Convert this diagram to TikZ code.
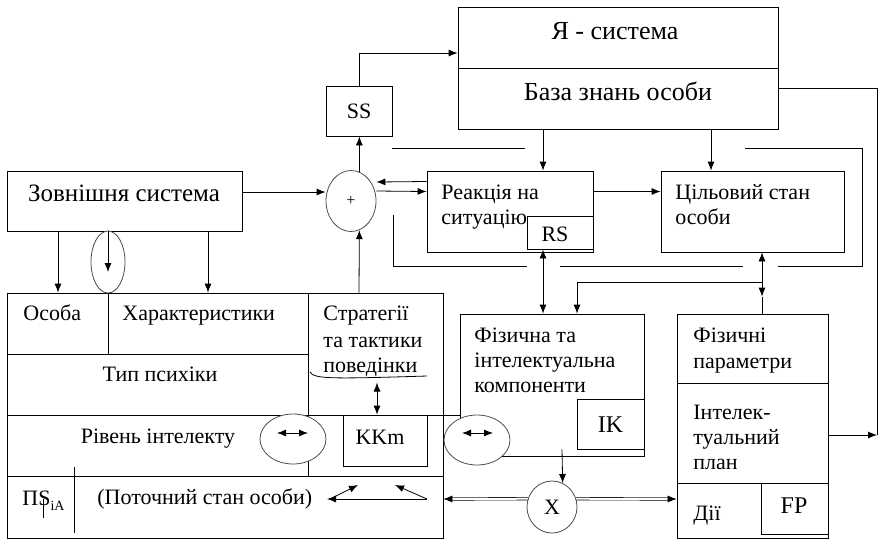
\documentclass[tikz,border=0pt]{standalone}
\usepackage{fontspec}
\setmainfont{Liberation Serif}
\usetikzlibrary{arrows.meta,shapes.geometric}

\begin{document}
\begin{tikzpicture}[x=1pt,y=-1pt,line width=0.8pt,
    >={Latex[length=9pt,width=7pt]},
    box/.style={draw,rectangle,inner sep=0pt},
    oval/.style={draw=black!70,ellipse,fill=white,inner sep=0pt},
    lbl/.style={anchor=west,inner sep=0pt,text height=14.5pt,text depth=0pt,font=\fontsize{22}{25}\selectfont},
    mid/.style={inner sep=0pt,text height=14.5pt,text depth=0pt,font=\fontsize{22}{25}\selectfont},
    big text/.style={mid,text height=17pt,font=\fontsize{26}{26}\selectfont},
    dbl/.style={double,double distance=2pt,line width=0.6pt}]
  \useasboundingbox (0,0) rectangle (878,539);
  % boxes
  \node[box,minimum width=320pt,minimum height=122pt] (ya) at (618,68) {};
  \node[box,minimum width=66pt,minimum height=50pt] (ss) at (359,111) {};
  \node[box,minimum width=235pt,minimum height=60pt] (zovn) at (124.5,201) {};
  \node[box,minimum width=166pt,minimum height=81pt] (reak) at (510,211.5) {};
  \node[box,minimum width=66pt,minimum height=33pt] (rs) at (560,232.5) {};
  \node[box,minimum width=183pt,minimum height=81pt] (cil) at (752.5,211.5) {};
  \node[box,minimum width=436pt,minimum height=245pt] (big) at (225,415.5) {};
  \node[box,minimum width=84pt,minimum height=51pt] (kkm) at (385,440.5) {};
  \node[box,minimum width=184pt,minimum height=142pt] (fizk) at (552,385) {};
  \node[box,minimum width=67pt,minimum height=50pt] (ik) at (610.5,424) {};
  \node[box,minimum width=151pt,minimum height=224pt] (fizp) at (752.5,426) {};
  \node[box,minimum width=67pt,minimum height=51pt] (fp) at (794.5,508.5) {};
  % inner lines
  \draw (ya.west) -- (ya.east);
  \draw (308,293) -- (308,476);
  \draw (108,293) -- (108,354);
  \draw (7,354) -- (308,354);
  \draw (7,415) -- (460,415);
  \draw (7,476) -- (443,476);
  \draw (74,467) -- (74,533);
  \draw (43,499) -- (43,518);
  \draw (310,372) .. controls (314,379) and (330,379) .. (427,376);
  \draw (677,383) -- (828,383);
  \draw (677,483) -- (828,483);
  % ovals
  \node[oval,minimum width=50pt,minimum height=61pt,font=\fontsize{16}{16}\selectfont] (plus) at (351,201) {+};
  \node[oval,minimum width=34pt,minimum height=62pt] (elz) at (108,262) {};
  \node[oval,minimum width=66pt,minimum height=50pt] (el1) at (293,439) {};
  \node[oval,minimum width=66pt,minimum height=50pt] (el2) at (477,440) {};
  \node[oval,minimum width=50pt,minimum height=52pt] (xc) at (552,507) {};
  % loop around
  \draw (393,215) -- (393,266) -- (527,266);
  \draw (560,266) -- (743,266);
  \draw (778,266) -- (862,266) -- (862,148) -- (745,148);
  \draw (525,148) -- (392,148);
  % texts
  \node[big text] at (615,31) {Я - система};
  \node[big text] at (618,92) {База знань особи};
  \node[mid] at (ss) {SS};
  \node[mid,text height=16.5pt,font=\fontsize{25}{25}\selectfont] at (124,193) {Зовнішня система};
  \node[lbl] at (441,192) {Реакція на};
  \node[lbl] at (441,217) {ситуацію};
  \node[mid] at (555,234) {RS};
  \node[lbl] at (675,192) {Цільовий стан};
  \node[lbl] at (675,217) {особи};
  \node[lbl] at (23,313) {Особа};
  \node[lbl] at (122,313) {Характеристики};
  \node[lbl] at (323,313) {Стратегії};
  \node[lbl] at (323,340) {та тактики};
  \node[lbl] at (323,365) {поведінки};
  \node[mid] at (160,374) {Тип психіки};
  \node[mid] at (158,436) {Рівень інтелекту};
  \node[mid] at (380,437) {KKm};
  \node[lbl] at (22,498) {ПS\raisebox{-5pt}{\fontsize{14}{14}\selectfont iA}};
  \node[lbl] at (97,497) {(Поточний стан особи)};
  \node[lbl] at (474,335) {Фізична та};
  \node[lbl] at (474,360) {інтелектуальна};
  \node[lbl] at (474,385) {компоненти};
  \node[mid,text height=16pt,font=\fontsize{24}{24}\selectfont] at (ik) {IK};
  \node[mid] at (xc) {X};
  \node[lbl] at (693,335) {Фізичні};
  \node[lbl] at (693,361) {параметри};
  \node[lbl] at (693,412) {Інтелек-};
  \node[lbl] at (693,437) {туальний};
  \node[lbl] at (693,462) {план};
  \node[lbl] at (693,513) {Дії};
  \node[mid,text height=16pt,font=\fontsize{24}{24}\selectfont] at (794,505) {FP};
  % connectors
  \draw[->] (ss.north) |- ([yshift=15pt]ya.west);
  \draw[->] (plus.74) -- (plus.74 |- ss.south);
  \draw[->] ([yshift=9pt]zovn.east) -- ([yshift=9pt]plus.west);
  \draw[->] ([yshift=10pt]plus.east) -- ([yshift=20pt]reak.west);
  \draw[->] ([yshift=30pt]reak.west) -- ([yshift=19pt]plus.east);
  \draw[->] ([yshift=20pt]reak.east) -- ([yshift=20pt]cil.west);
  \draw[->] ([xshift=-75pt]ya.south) -- ([xshift=33pt]reak.north);
  \draw[->] ([xshift=93pt]ya.south) -- ([xshift=-41.5pt]cil.north);
  \draw[<->] ([xshift=-17pt]rs.south) -- ([xshift=-9pt]fizk.north);
  \coordinate (fa) at ([xshift=9.5pt,yshift=17pt]fizp.north);
  \coordinate (fj) at ([xshift=9.5pt,yshift=31pt]fizp.north);
  \draw[<->] ([xshift=9.5pt]cil.south) -- (fa);
  \draw (fa) -- ([xshift=9.5pt]fizp.north);
  \draw[->] (fj) -| ([xshift=25pt]fizk.north);
  \draw[->] ([xshift=-66.5pt]zovn.south) -- ([xshift=-167pt]big.north);
  \draw[->] ([xshift=83.5pt]zovn.south) -- ([xshift=-17pt]big.north);
  \draw[->] (elz.north) -- ([yshift=-10pt]elz.center);
  \draw[->] ([xshift=134pt]big.north) -- (plus.-74);
  \draw[<->] ([xshift=-8pt,yshift=32pt]kkm.north) -- ([xshift=-8pt]kkm.north);
  \draw[<->] ([xshift=-16pt,yshift=6pt]el1.center) -- ([xshift=15pt,yshift=6pt]el1.center);
  \draw[<->] ([xshift=-15pt,yshift=7pt]el2.center) -- ([xshift=16pt,yshift=7pt]el2.center);
  \draw[->] ([xshift=10pt,yshift=7pt]fizk.south) -- (xc.66);
  \draw[dbl,->] (xc.161) -- ([yshift=-83.5pt]big.east);
  \draw[dbl,->] (xc.19) -- ([yshift=-73pt]fizp.west);
  % right feedback
  \coordinate (rend) at (877,435);
  \draw ([yshift=-20pt]ya.east) -| (rend);
  \draw[->] ([yshift=-9pt]fizp.east) -- (rend);
  % current state arrows
  \coordinate (pr) at (427,499);
  \coordinate (pl) at (327,499);
  \coordinate (pu) at (358,485);
  \coordinate (pv) at (395,485);
  \draw[->] (pr) -- (pl);
  \draw[->] (334,497) -- (pu);
  \draw[->] (pr) -- (pv);
\end{tikzpicture}
\end{document}
